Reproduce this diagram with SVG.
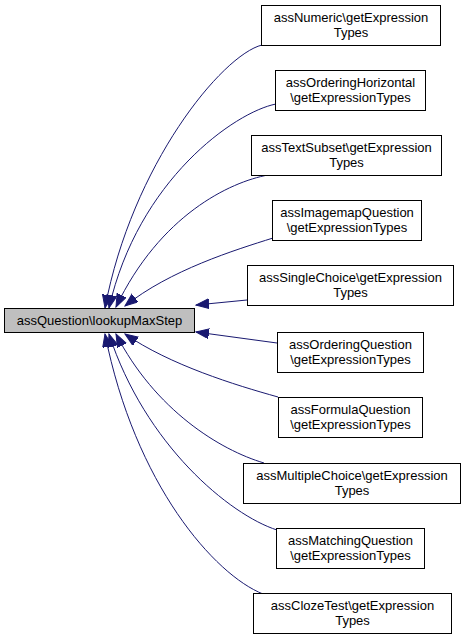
<svg xmlns="http://www.w3.org/2000/svg" width="464" height="640" viewBox="0 0 464 640">
<defs>
<style>
.bg{fill:#ffffff}
.node rect{fill:#ffffff;stroke:#000000;stroke-width:1}
.node.main rect{fill:#bfbfbf}
.node text{font-family:"Liberation Sans",Arial,Helvetica,sans-serif;font-size:13px;fill:#000000;text-anchor:middle}
.edge{fill:none;stroke:#191970;stroke-width:1;marker-end:url(#arrow)}
</style>
<marker id="arrow" markerUnits="userSpaceOnUse" markerWidth="14" markerHeight="11" refX="13" refY="5" orient="auto">
<path d="M0,0 L13,5 L0,10 z" fill="#191970" stroke="#191970" stroke-width="1"/>
</marker>
</defs>
<rect class="bg" x="0" y="0" width="464" height="640"/>
<g id="edges">
<path class="edge" d="M262,45 C222,55 132,165 105,308"/>
<path class="edge" d="M276,104 C235,112 138,180 109,308"/>
<path class="edge" d="M268,175 C230,182 160,215 116,307"/>
<path class="edge" d="M273,238 C235,250 170,270 125,306"/>
<path class="edge" d="M247,300 L196,305"/>
<path class="edge" d="M277,343 L196,332"/>
<path class="edge" d="M278,397 C235,385 170,365 125,334"/>
<path class="edge" d="M264,463 C220,450 155,410 116,334"/>
<path class="edge" d="M277,530 C230,515 145,445 109,334"/>
<path class="edge" d="M263,594 C215,575 135,485 105,334"/>
</g>
<g id="node-main" class="node main">
<rect x="4.5" y="308.5" width="190" height="24"/>
<text x="99.5" y="325">assQuestion\lookupMaxStep</text>
</g>
<g id="node-numeric" class="node">
<rect x="261.5" y="5.5" width="179" height="40"/>
<text x="351" y="22">assNumeric\getExpression</text>
<text x="351" y="36.5">Types</text>
</g>
<g id="node-orderinghorizontal" class="node">
<rect x="275.5" y="70.5" width="150" height="40"/>
<text x="350.5" y="87">assOrderingHorizontal</text>
<text x="350.5" y="101.5">\getExpressionTypes</text>
</g>
<g id="node-textsubset" class="node">
<rect x="251.5" y="135.5" width="190" height="40"/>
<text x="346.5" y="152">assTextSubset\getExpression</text>
<text x="346.5" y="166.5">Types</text>
</g>
<g id="node-imagemap" class="node">
<rect x="272.5" y="200.5" width="149" height="40"/>
<text x="347" y="217">assImagemapQuestion</text>
<text x="347" y="231.5">\getExpressionTypes</text>
</g>
<g id="node-singlechoice" class="node">
<rect x="247.5" y="265.5" width="206" height="40"/>
<text x="350.5" y="282">assSingleChoice\getExpression</text>
<text x="350.5" y="296.5">Types</text>
</g>
<g id="node-orderingquestion" class="node">
<rect x="277.5" y="332.5" width="146" height="40"/>
<text x="350.5" y="349">assOrderingQuestion</text>
<text x="350.5" y="363.5">\getExpressionTypes</text>
</g>
<g id="node-formula" class="node">
<rect x="278.5" y="397.5" width="144" height="40"/>
<text x="350.5" y="414">assFormulaQuestion</text>
<text x="350.5" y="428.5">\getExpressionTypes</text>
</g>
<g id="node-multiplechoice" class="node">
<rect x="243.5" y="463.5" width="217" height="40"/>
<text x="352" y="480">assMultipleChoice\getExpression</text>
<text x="352" y="494.5">Types</text>
</g>
<g id="node-matching" class="node">
<rect x="276.5" y="528.5" width="148" height="40"/>
<text x="350.5" y="545">assMatchingQuestion</text>
<text x="350.5" y="559.5">\getExpressionTypes</text>
</g>
<g id="node-clozetest" class="node">
<rect x="253.5" y="593.5" width="198" height="40"/>
<text x="352.5" y="610">assClozeTest\getExpression</text>
<text x="352.5" y="624.5">Types</text>
</g>
</svg>
